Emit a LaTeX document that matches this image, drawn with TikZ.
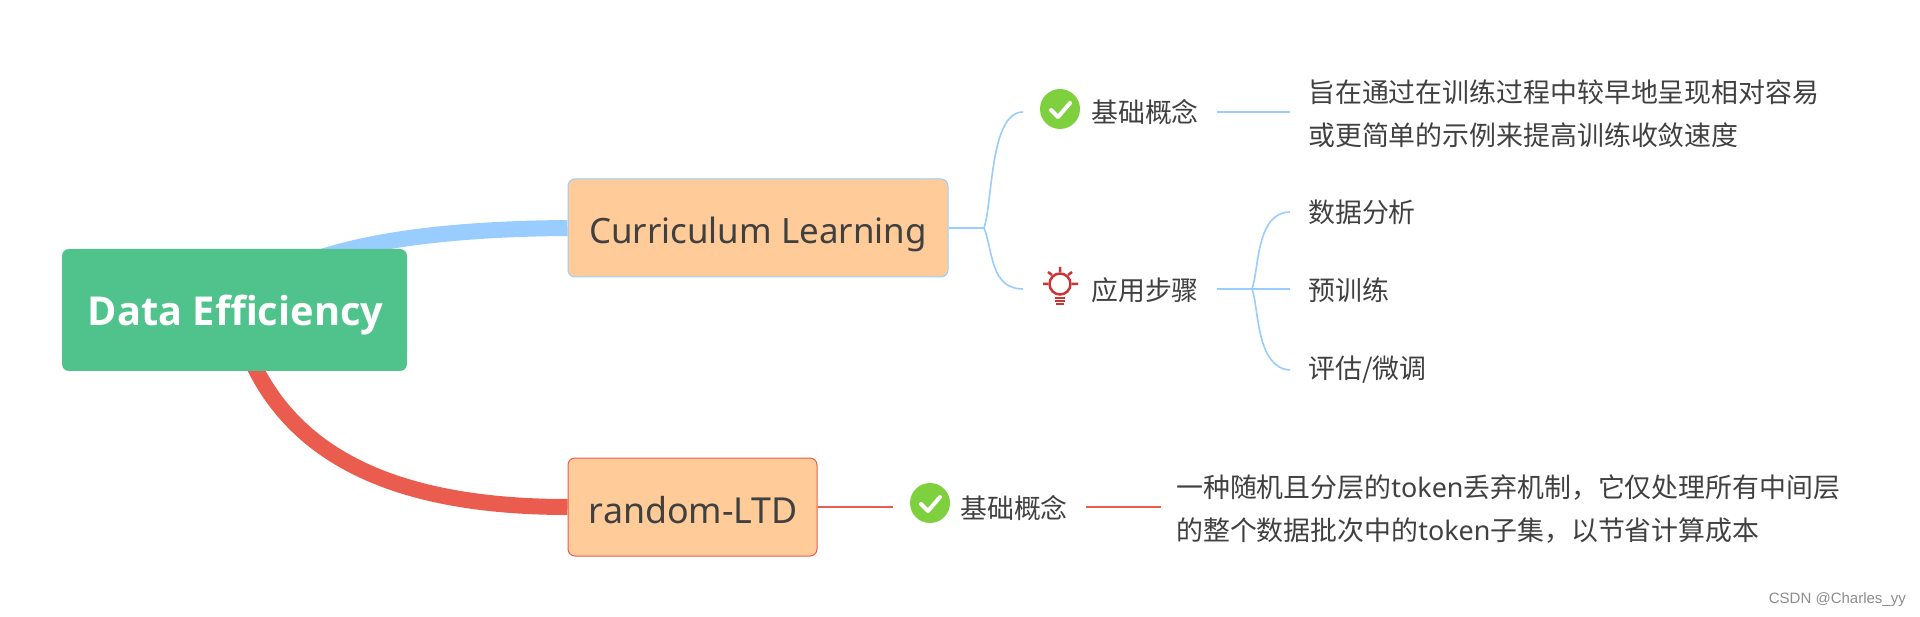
\documentclass[tikz,border=0pt]{standalone}
\usepackage{fontspec}
\setmainfont{Noto Sans CJK SC}
\newfontfamily\latinf{Noto Sans}
\newfontfamily\latinb{Open Sans}
\newfontfamily\wmf{Liberation Sans}
\usetikzlibrary{backgrounds}
\definecolor{inkc}{HTML}{404040}
\definecolor{rootc}{HTML}{50C38C}
\definecolor{orangec}{HTML}{FFCC99}
\definecolor{bluec}{HTML}{99CCFF}
\definecolor{redc}{HTML}{EA5D4E}
\definecolor{checkc}{HTML}{7FD03F}
\definecolor{bulbc}{HTML}{CC3333}
\tikzset{
  x=1pt,y=-1pt,
  rootbox/.style={fill=rootc,rounded corners=7pt,text=white,inner sep=0,minimum width=345pt,minimum height=122pt,font=\latinb\bfseries\fontsize{39.8}{40}\selectfont},
  topicbox/.style={fill=orangec,rounded corners=7pt,text=inkc,inner sep=0,line width=1pt,minimum height=98pt,font=\latinf\fontsize{34.9}{44}\selectfont},
  label/.style={text=inkc,anchor=west,inner ysep=0,inner xsep=18pt,align=left,font=\fontsize{26.9}{43}\selectfont},
  checkicon/.style={circle,fill=checkc,minimum size=40pt,inner sep=0,outer sep=17pt},
  checkline/.style={draw=white,line width=4pt,line cap=round,line join=round},
  bulbicon/.style={circle,draw=bulbc,line width=2.5pt,minimum size=21pt,inner sep=0},
  bulbline/.style={draw=bulbc,line width=2.5pt},
  bluethin/.style={draw=bluec,line width=1.6pt},
  redthin/.style={draw=redc,line width=1.4pt},
}
\newcommand{\tick}[1]{\draw[checkline] ([shift={(-9,1)}]#1) -- ([shift={(-2,8)}]#1) -- ([shift={(10,-6)}]#1);}
\begin{document}
\begin{tikzpicture}
\useasboundingbox (0,0) rectangle (1920,617);
\node[rootbox] (root) at (234.5,310) {\raisebox{-16pt}[0pt][0pt]{\hspace{2pt}Data Efficiency}};
\node[topicbox,draw=bluec,minimum width=380pt] (cur) at (758,228) {\raisebox{-16pt}[0pt][0pt]{Curriculum Learning}};
\node[topicbox,draw=redc,minimum width=249pt] (ltd) at (692.5,507) {\raisebox{-16pt}[0pt][0pt]{\fontsize{35.8}{44}\selectfont\hspace{2pt}random-LTD}};
% upper branch
\coordinate (jcur) at (984,228);
\node[checkicon] (k1) at (1060,109) {};
\tick{k1.center}
\coordinate (k1in) at (1023,112);
\node[label] (c1) at (1073,112) {基础概念};
\node[label] (d1) at (1290,113.5) {旨在通过在训练过程中较早地呈现相对容易\\或更简单的示例来提高训练收敛速度};
\node[bulbicon] (k2) at (1060,284) {};
\coordinate (k2in) at (1023,289);
\draw[bulbline] (1060,267) -- (1060,272) (1043,284) -- (1048,284) (1072,284) -- (1078,284)
  (1048,272) -- (1052,275) (1072,272) -- (1068,275);
\draw[bulbline,line width=2pt] (1055,298) -- (1065,298) (1055,301) -- (1065,301) (1056,304) -- (1064,304);
\node[label] (c2) at (1073,290) {应用步骤};
\coordinate (jstep) at (1252,289);
\node[label] (s1) at (1290,212) {数据分析};
\node[label] (s2) at (1290,290) {预训练};
\node[label] (s3) at (1290,370) {评估/微调};
% lower branch
\node[checkicon] (k3) at (930,503) {};
\tick{k3.center}
\coordinate (k3in) at (893,507);
\node[label] (c3) at (942,508) {基础概念};
\node[label,inner xsep=15pt] (d3) at (1161,509.5) {一种随机且分层的{\latinf token}丢弃机制，它仅处理所有中间层\\的整个数据批次中的{\latinf token}子集，以节省计算成本};
\node[anchor=east,inner sep=0,text=black!45,font=\wmf\fontsize{15}{16}\selectfont] (wm) at (1906,600) {CSDN @Charles\_yy};
\begin{scope}[on background layer]
  \draw[draw=bluec,line width=16pt] (root.center) .. controls (285,245) and (430,229) .. (cur.west);
  \draw[draw=redc,line width=16pt] (root.center) .. controls (265,440) and (370,507) .. (ltd.west);
  \draw[bluethin,line width=2pt] (cur.east) -- (jcur);
  \draw[bluethin] (jcur) .. controls (993,200) and (990,112) .. (k1in);
  \draw[bluethin] (jcur) .. controls (993,250) and (990,289) .. (k2in);
  \draw[bluethin] (c1.east) -- (c1.east -| d1.west);
  \draw[bluethin,line width=2.4pt] (c2.east |- jstep) -- (jstep);
  \draw[bluethin] (jstep) .. controls (1259,270) and (1256,212) .. (s1.west);
  \draw[bluethin] (jstep) -- (s2.west |- jstep);
  \draw[bluethin] (jstep) .. controls (1259,308) and (1256,368) .. (s3.west);
  \draw[redthin] (ltd.east) -- (k3in);
  \draw[redthin] (c3.east |- k3in) -- (d3.west |- k3in);
\end{scope}
\end{tikzpicture}
\end{document}
